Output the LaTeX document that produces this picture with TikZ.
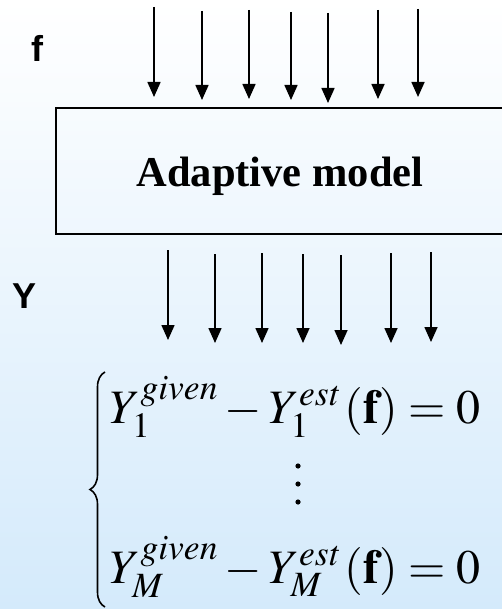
\documentclass[tikz,border=0pt]{standalone}
\usepackage{mathptmx}
\usepackage{fontspec}
\setmainfont{Liberation Serif}
\setsansfont{Liberation Sans}
\usetikzlibrary{arrows.meta,decorations.pathreplacing}

\definecolor{bgtop}{RGB}{255,255,255}
\definecolor{bgbottom}{RGB}{212,234,251}

\tikzset{
  flow/.style={line width=1.6pt, -{Triangle[length=15pt,width=13pt]}},
  sidelabel/.style={font=\sffamily\bfseries\fontsize{36}{40}\selectfont, anchor=base west, inner sep=0pt},
  modelbox/.style={draw, line width=2pt, anchor=north west, minimum width=450pt, minimum height=126pt,
                   inner sep=0pt},
  eqrow/.style={anchor=base west, inner sep=0pt, font=\fontsize{48}{52}\selectfont},
  dot/.style={fill=black},
}

\begin{document}
\begin{tikzpicture}[x=1pt, y=-1pt]
  \useasboundingbox (0,0) rectangle (502,609);
  \clip (0,0) rectangle (502,609);
  \shade[top color=bgtop, bottom color=bgbottom] (0,0) rectangle (502,609);

  % side labels
  \node[sidelabel] (flab) at (31,62) {f};
  \node[sidelabel] (ylab) at (12,308) {Y};

  % the model block
  \node[modelbox] (model) at (55,107) {};
  \node[anchor=base, inner sep=0pt, font=\rmfamily\bfseries\fontsize{42.5}{46}\selectfont]
    (mtext) at (280,187) {Adaptive model};

  % input arrows
  \foreach \i/\x/\ya/\yb in {1/154/7/97, 2/202/11/100, 3/249/10/99, 4/291/12/100,
                             5/328/13/103, 6/378/10/99, 7/418/9/97} {
    \coordinate (in\i) at (\x,\ya);
    \coordinate (inend\i) at (\x,\yb);
    \draw[flow] (in\i) -- (inend\i);
  }

  % output arrows
  \foreach \i/\x/\ya/\yb in {1/168/250/340, 2/215/254/343, 3/262/253/343, 4/303/254/343,
                             5/341/255/345, 6/391/253/343, 7/431/252/342} {
    \coordinate (out\i) at (\x,\ya);
    \coordinate (outend\i) at (\x,\yb);
    \draw[flow] (out\i) -- (outend\i);
  }

  % system of equations
  \node[eqrow] (eq1) at (110,423)
    {$Y_{1}^{\mathit{given}} - Y_{1}^{\mathit{est}}\,\mathbf{(f)} = 0$};
  \node[eqrow] (eq2) at (110,583)
    {$Y_{M}^{\mathit{given}} - Y_{M}^{\mathit{est}}\,\mathbf{(f)} = 0$};

  % vertical ellipsis between the rows
  \foreach \y in {466,484,502} \fill[dot] (298,\y) circle (2.6pt);

  \coordinate (brbot) at (105,607);
  \coordinate (brtop) at (105,372);
  \draw[line width=1.6pt, decorate, decoration={brace, amplitude=15pt}] (brbot) -- (brtop);
\end{tikzpicture}
\end{document}
